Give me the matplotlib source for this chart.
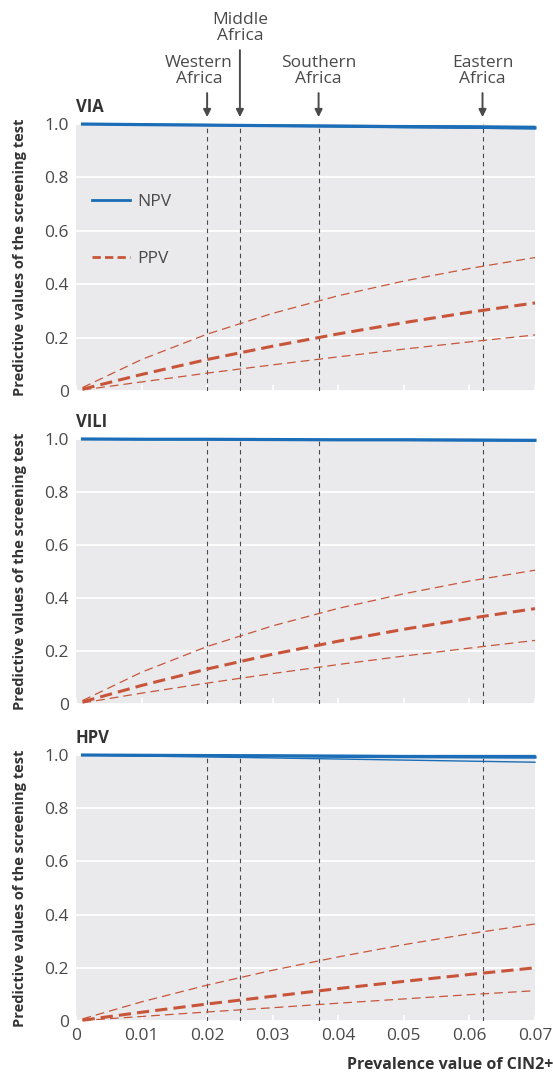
import matplotlib
matplotlib.use('Agg')
import matplotlib.pyplot as plt
from matplotlib.lines import Line2D
import matplotlib.transforms as mtransforms

plt.rcParams['font.family'] = ['Open Sans', 'DejaVu Sans']

# prevalence of CIN2+ (x axis)
prevalence = [0.001, 0.01, 0.02, 0.03, 0.04, 0.05, 0.06, 0.07]

# VIA
via_npv = [1.0, 0.998, 0.996, 0.994, 0.992, 0.990, 0.988, 0.986]
via_npv_hi = [1.0, 0.999, 0.998, 0.996, 0.995, 0.994, 0.993, 0.991]
via_npv_lo = [1.0, 0.997, 0.995, 0.992, 0.990, 0.987, 0.985, 0.982]
via_ppv = [0.007, 0.062, 0.118, 0.168, 0.214, 0.256, 0.295, 0.330]
via_ppv_hi = [0.013, 0.118, 0.213, 0.291, 0.357, 0.412, 0.459, 0.500]
via_ppv_lo = [0.004, 0.034, 0.067, 0.098, 0.128, 0.157, 0.184, 0.210]

# VILI
vili_npv = [1.0, 0.999, 0.999, 0.998, 0.997, 0.997, 0.996, 0.995]
vili_npv_hi = [1.0, 1.0, 0.999, 0.999, 0.998, 0.998, 0.998, 0.997]
vili_npv_lo = [1.0, 0.999, 0.998, 0.997, 0.996, 0.995, 0.994, 0.993]
vili_ppv = [0.008, 0.070, 0.132, 0.188, 0.237, 0.282, 0.323, 0.360]
vili_ppv_hi = [0.013, 0.120, 0.217, 0.295, 0.361, 0.416, 0.464, 0.505]
vili_ppv_lo = [0.004, 0.041, 0.079, 0.115, 0.149, 0.181, 0.211, 0.240]

# HPV
hpv_npv = [1.0, 0.999, 0.998, 0.997, 0.995, 0.994, 0.993, 0.992]
hpv_npv_hi = [1.0, 1.0, 0.999, 0.999, 0.999, 0.998, 0.998, 0.998]
hpv_npv_lo = [1.0, 0.996, 0.993, 0.989, 0.985, 0.981, 0.977, 0.973]
hpv_ppv = [0.003, 0.033, 0.064, 0.093, 0.122, 0.149, 0.175, 0.200]
hpv_ppv_hi = [0.008, 0.072, 0.135, 0.191, 0.241, 0.287, 0.328, 0.365]
hpv_ppv_lo = [0.002, 0.017, 0.034, 0.050, 0.067, 0.083, 0.099, 0.114]

tests = ['VIA', 'VILI', 'HPV']
npv = [via_npv, vili_npv, hpv_npv]
npv_hi = [via_npv_hi, vili_npv_hi, hpv_npv_hi]
npv_lo = [via_npv_lo, vili_npv_lo, hpv_npv_lo]
ppv = [via_ppv, vili_ppv, hpv_ppv]
ppv_hi = [via_ppv_hi, vili_ppv_hi, hpv_ppv_hi]
ppv_lo = [via_ppv_lo, vili_ppv_lo, hpv_ppv_lo]

# regional prevalences
regions = ['Western\nAfrica', 'Middle\nAfrica', 'Southern\nAfrica', 'Eastern\nAfrica']
region_prev = [0.020, 0.025, 0.037, 0.062]

xticks = [0, 0.01, 0.02, 0.03, 0.04, 0.05, 0.06, 0.07]
xticklabels = ['0', '0.01', '0.02', '0.03', '0.04', '0.05', '0.06', '0.07']
yticks = [0, 0.2, 0.4, 0.6, 0.8, 1.0]
yticklabels = ['0', '0.2', '0.4', '0.6', '0.8', '1.0']

blue = '#1a6db6'
red = '#c8553a'
grey = '#4a4a4a'
panel_bg = '#eaeaec'

fig = plt.figure(figsize=(5.53, 10.76), dpi=100)
left = 0.1374
width = 0.830
rects = [[left, 0.6366, width, 0.2481],
         [left, 0.3457, width, 0.2463],
         [left, 0.0511, width, 0.2472]]

axes = []
for i, name in enumerate(tests):
    ax = fig.add_axes(rects[i])
    axes.append(ax)
    ax.set_facecolor(panel_bg)
    for s in ax.spines.values():
        s.set_visible(False)
    ax.set_xlim(0, 0.07)
    ax.set_ylim(0, 1.0)
    ax.set_yticks(yticks)
    ax.set_yticklabels(yticklabels)
    ax.set_xticks(xticks)
    if i == 2:
        ax.set_xticklabels(xticklabels)
    else:
        ax.set_xticklabels([])
    ax.tick_params(axis='y', length=0, pad=5, labelsize=12.5, labelcolor=grey)
    ax.tick_params(axis='x', direction='in', length=4, width=1.2, color='white',
                   pad=5, labelsize=12.5, labelcolor=grey)
    ax.yaxis.grid(True, color='white', lw=1.3)
    ax.set_axisbelow(True)

    for xp in region_prev:
        ax.axvline(xp, color=grey, lw=0.8, ls=(0, (4, 3.5)), zorder=2)

    # PPV: estimate plus interval
    ax.plot(prevalence, ppv_hi[i], color=red, lw=0.9, ls=(0, (7, 4)), clip_on=False, zorder=3)
    ax.plot(prevalence, ppv_lo[i], color=red, lw=0.9, ls=(0, (7, 4)), clip_on=False, zorder=3)
    ax.plot(prevalence, ppv[i], color=red, lw=2.2, ls=(0, (4, 2)), clip_on=False, zorder=3)
    # NPV
    ax.plot(prevalence, npv_hi[i], color=blue, lw=1.0, clip_on=False, zorder=4)
    ax.plot(prevalence, npv_lo[i], color=blue, lw=1.0, clip_on=False, zorder=4)
    ax.plot(prevalence, npv[i], color=blue, lw=2.3, clip_on=False, zorder=4)

    ax.text(0, 1.064, name, transform=ax.transAxes, ha='left', va='center',
            fontsize=12, fontweight='bold', color='#333333')
    ax.text(-0.122, 0.5, 'Predictive values of the screening test', transform=ax.transAxes,
            rotation=90, ha='center', va='center', fontsize=10.5, fontweight='bold',
            color='#333333')

# legend in the top panel
handles = [Line2D([], [], color=blue, lw=2.0),
           Line2D([], [], color=red, lw=2.0, ls=(0, (3, 1.5)))]
axes[0].legend(handles, ['NPV', 'PPV'], loc='upper left', bbox_to_anchor=(0.02, 0.765),
               frameon=False, fontsize=12.5, handlelength=2.2, handletextpad=0.4,
               labelspacing=2.35, borderaxespad=0, labelcolor=grey)

# region labels and arrows above the top panel
ax = axes[0]
trans = mtransforms.blended_transform_factory(ax.transData, ax.transAxes)
label_x = [0.01875, 0.025, 0.037, 0.062]
label_y = [1.197, 1.361, 1.197, 1.197]
arrow_top = [1.116, 1.277, 1.116, 1.116]
for name, xp, lx, ly, at in zip(regions, region_prev, label_x, label_y, arrow_top):
    ax.text(lx, ly, name, transform=trans, ha='center', va='center', fontsize=12.5,
            color=grey, linespacing=1.0)
    ax.annotate('', xy=(xp, 1.026), xycoords=trans, xytext=(xp, at), textcoords=trans,
                arrowprops=dict(arrowstyle='-|>', color=grey, lw=1.4, mutation_scale=11,
                                shrinkA=0, shrinkB=0))

fig.text(1.0, 1 - 1065 / 1076, 'Prevalence value of CIN2+', ha='right', va='center',
         fontsize=11.5, fontweight='bold', color='#333333')

fig.savefig('out.png', dpi=100)
